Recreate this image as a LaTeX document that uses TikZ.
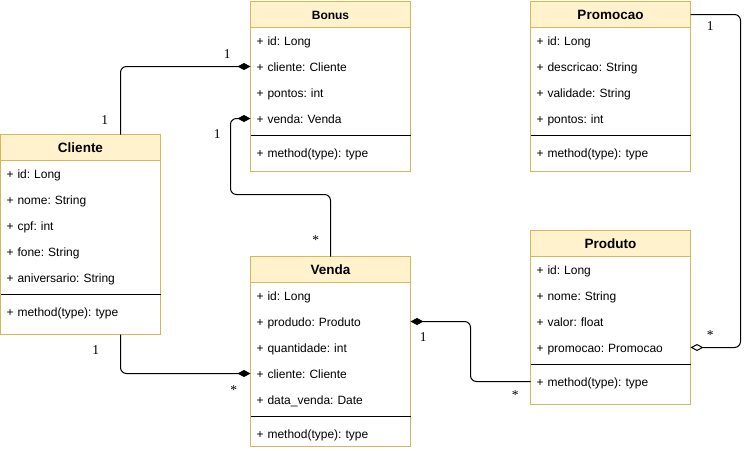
\documentclass[tikz,border=0pt]{standalone}
\usepackage{fontspec}
\setmainfont{Liberation Sans}
\newfontfamily\multfont{Liberation Serif}
\usetikzlibrary{positioning,arrows.meta}
\definecolor{headfill}{HTML}{FFF2CC}
\definecolor{headline}{HTML}{D6B656}
\frenchspacing

\begin{document}
\begin{tikzpicture}[x=1pt,y=-1pt,line width=1pt,
  every node/.style={outer sep=0pt},
  head/.style={draw=headline,fill=headfill,minimum width=160pt,minimum height=26pt,
    inner sep=0pt,anchor=north west,text height=10pt,text depth=0pt,
    font=\fontsize{13.5}{14}\selectfont\bfseries},
  attr/.style={text width=148pt,inner xsep=6pt,inner ysep=0pt,minimum height=26pt,
    text height=10pt,text depth=0pt,align=left,font=\fontsize{12}{14}\selectfont},
  body/.style={draw=headline},
  comp/.style={-{Diamond[length=13pt,width=7pt]},rounded corners=6pt},
  aggr/.style={-{Diamond[open,length=13pt,width=7pt]},rounded corners=6pt},
  mult/.style={font=\multfont\fontsize{13.5}{14}\selectfont,inner sep=0pt}]
  \useasboundingbox (0,0) rectangle (755,450);

  \node[head,font=\fontsize{12}{14}\selectfont\bfseries] (bonus) at (250.5,1.5) {Bonus};
  \node[attr,below=0pt of bonus] (bonus-id) {+ id: Long};
  \node[attr,below=0pt of bonus-id] (bonus-cliente) {+ cliente: Cliente};
  \node[attr,below=0pt of bonus-cliente] (bonus-pontos) {+ pontos: int};
  \node[attr,below=0pt of bonus-pontos] (bonus-venda) {+ venda: Venda};
  \node[attr,below=8pt of bonus-venda] (bonus-m) {+ method(type): type};
  \draw[body] (bonus.south west) rectangle ([yshift=-6pt]bonus-m.south east);
  \draw ([yshift=-4pt]bonus-venda.south west) -- ([yshift=-4pt]bonus-venda.south east);

  \node[head] (promocao) at (530.5,1.5) {Promocao};
  \node[attr,below=0pt of promocao] (promocao-id) {+ id: Long};
  \node[attr,below=0pt of promocao-id] (promocao-descricao) {+ descricao: String};
  \node[attr,below=0pt of promocao-descricao] (promocao-validade) {+ validade: String};
  \node[attr,below=0pt of promocao-validade] (promocao-pontos) {+ pontos: int};
  \node[attr,below=8pt of promocao-pontos] (promocao-m) {+ method(type): type};
  \draw[body] (promocao.south west) rectangle ([yshift=-6pt]promocao-m.south east);
  \draw ([yshift=-4pt]promocao-pontos.south west) -- ([yshift=-4pt]promocao-pontos.south east);

  \node[head] (cliente) at (0.5,134.5) {Cliente};
  \node[attr,below=0pt of cliente] (cliente-id) {+ id: Long};
  \node[attr,below=0pt of cliente-id] (cliente-nome) {+ nome: String};
  \node[attr,below=0pt of cliente-nome] (cliente-cpf) {+ cpf: int};
  \node[attr,below=0pt of cliente-cpf] (cliente-fone) {+ fone: String};
  \node[attr,below=0pt of cliente-fone] (cliente-aniversario) {+ aniversario: String};
  \node[attr,below=8pt of cliente-aniversario] (cliente-m) {+ method(type): type};
  \coordinate (cliente-bot) at ([yshift=-10pt]cliente-m.south);
  \draw[body] (cliente.south west) rectangle ([yshift=-10pt]cliente-m.south east);
  \draw ([yshift=-4pt]cliente-aniversario.south west) -- ([yshift=-4pt]cliente-aniversario.south east);

  \node[head] (venda) at (250.5,256.5) {Venda};
  \node[attr,below=0pt of venda] (venda-id) {+ id: Long};
  \node[attr,below=0pt of venda-id] (venda-produdo) {+ produdo: Produto};
  \node[attr,below=0pt of venda-produdo] (venda-quantidade) {+ quantidade: int};
  \node[attr,below=0pt of venda-quantidade] (venda-cliente) {+ cliente: Cliente};
  \node[attr,below=0pt of venda-cliente] (venda-data) {+ data\_venda: Date};
  \node[attr,below=8pt of venda-data] (venda-m) {+ method(type): type};
  \draw[body] (venda.south west) rectangle (venda-m.south east);
  \draw ([yshift=-4pt]venda-data.south west) -- ([yshift=-4pt]venda-data.south east);

  \node[head] (produto) at (530.5,230.5) {Produto};
  \node[attr,below=0pt of produto] (produto-id) {+ id: Long};
  \node[attr,below=0pt of produto-id] (produto-nome) {+ nome: String};
  \node[attr,below=0pt of produto-nome] (produto-valor) {+ valor: float};
  \node[attr,below=0pt of produto-valor] (produto-promocao) {+ promocao: Promocao};
  \node[attr,below=8pt of produto-promocao] (produto-m) {+ method(type): type};
  \draw[body] (produto.south west) rectangle ([yshift=-10pt]produto-m.south east);
  \draw ([yshift=-4pt]produto-promocao.south west) -- ([yshift=-4pt]produto-promocao.south east);

  \draw[comp] ([xshift=40pt]cliente.north) |- (bonus-cliente.west);
  \draw[comp] (venda.north) -- ++(0,-62) -| ([xshift=-20pt]bonus-venda.west) -- (bonus-venda.west);
  \draw[comp] ([xshift=40pt]cliente-bot) |- (venda-cliente.west);
  \draw[comp] (produto-m.west) -- ++(-60,0) |- (venda-produdo.east);
  \draw[aggr] (promocao.east) -- ++(50,0) |- (produto-promocao.east);

  \node[mult] (m-cb1) at (104.7,120.3) {1};
  \node[mult] (m-cb2) at (227.3,54.3) {1};
  \node[mult] (m-vb1) at (315.7,240) {*};
  \node[mult] (m-vb2) at (217.3,134) {1};
  \node[mult] (m-cv1) at (95.7,349.7) {1};
  \node[mult] (m-cv2) at (233.7,390) {*};
  \node[mult] (m-pv1) at (423.3,337.3) {1};
  \node[mult] (m-pv2) at (515.3,395) {*};
  \node[mult] (m-pp1) at (710.3,25.7) {1};
  \node[mult] (m-pp2) at (710.3,335) {*};
\end{tikzpicture}
\end{document}
